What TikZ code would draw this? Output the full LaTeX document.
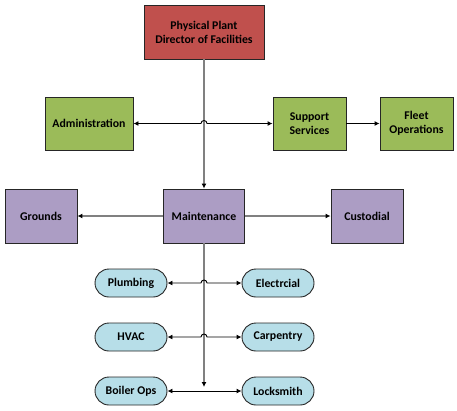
\documentclass[tikz,border=0pt]{standalone}
\usepackage{fontspec}
\setmainfont{Carlito}
\usepackage{tikz}
\usetikzlibrary{positioning,arrows.meta}
\definecolor{directorColor}{RGB}{192,80,77}
\definecolor{officeColor}{RGB}{155,187,89}
\definecolor{unitColor}{RGB}{172,157,196}
\definecolor{tradeColor}{RGB}{183,222,232}
\definecolor{trunkColor}{RGB}{128,128,128}
\tikzstyle{chart} = [x = 1pt, y = -1pt, font=\fontsize{11.8}{14}\selectfont\bfseries]
\tikzstyle{boxStyle} = [draw=black!85, line width=.9pt, align=center, inner sep=0pt]
\tikzstyle{directorBox} = [boxStyle, fill=directorColor, minimum width=120pt, minimum height=54pt]
\tikzstyle{officeBox} = [boxStyle, fill=officeColor, minimum width=73pt, minimum height=53pt]
\tikzstyle{unitBox} = [boxStyle, fill=unitColor, minimum width=72pt, minimum height=54pt]
\tikzstyle{tradeBox} = [boxStyle, fill=tradeColor, rounded corners=14pt, minimum width=72pt, minimum height=28pt]
\tikzstyle{trunkLine} = [color=trunkColor, line width=1.6pt, -{Latex[length=5pt,width=5pt,color=black]}]
\tikzstyle{linkLine} = [color=black, line width=.9pt, {Latex[length=5pt,width=5pt]}-{Latex[length=5pt,width=5pt]}]
\tikzstyle{oneWayLine} = [color=black, line width=.9pt, -{Latex[length=5pt,width=5pt]}]
\newcommand{\hopSize}{3pt}
\newcommand{\hopLink}[2]{\draw [linkLine] (#1.east) -- ([xshift=-\hopSize]#1.east -| maint.north) arc (180:0:\hopSize) -- (#2.west);}
\newcommand{\plainLink}[2]{\draw [linkLine] (#1.east) -- (#2.west);}

\begin{document}
\begin{tikzpicture}[chart]
  \useasboundingbox (0,0) rectangle (457,410);
  % top
  \node [directorBox] (director) at (204,32) {Physical Plant\\Director of Facilities};
  \node [officeBox, minimum width=88pt] (admin) at (89,123.5) {Administration};
  \node [officeBox] (support) at (309.5,123.5) {Support\\Services};
  \node [officeBox] (fleet) at (416.5,123.5) {Fleet\\Operations};
  % middle row
  \node [unitBox] (grounds) at (41,216) {Grounds};
  \node [unitBox, minimum width=81pt] (maint) at (204,216) {Maintenance};
  \node [unitBox] (custodial) at (367,216) {Custodial};
  % trades
  \node [tradeBox] (plumbing) at (131,283) {Plumbing};
  \node [tradeBox] (electrical) at (278,283) {Electrcial};
  \node [tradeBox] (hvac) at (131,337) {HVAC};
  \node [tradeBox] (carpentry) at (278,337) {Carpentry};
  \node [tradeBox] (boiler) at (131,391) {Boiler Ops};
  \node [tradeBox] (locksmith) at (278,391) {Locksmith};

  \draw [trunkLine] (director.south) -- (maint.north);
  \draw [trunkLine] (maint.west) -- (grounds.east);
  \draw [trunkLine] (maint.east) -- (custodial.west);
  \draw [trunkLine] (maint.south) -- ([yshift=4pt]boiler.east -| maint.south);

  \hopLink{admin}{support}
  \draw [oneWayLine] (support.east) -- (fleet.west);
  \hopLink{plumbing}{electrical}
  \hopLink{hvac}{carpentry}
  \plainLink{boiler}{locksmith}
\end{tikzpicture}
\end{document}
